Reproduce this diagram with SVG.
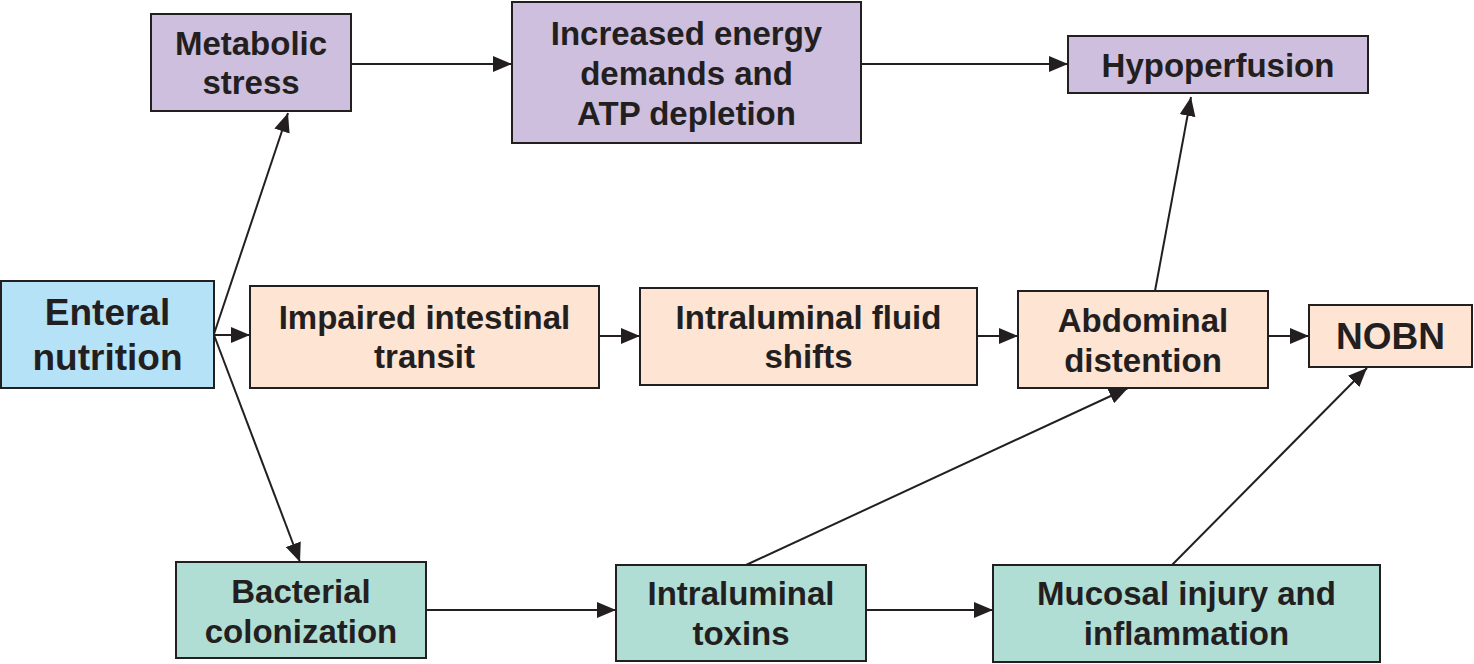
<svg xmlns="http://www.w3.org/2000/svg" width="1474" height="664" viewBox="0 0 1474 664">
<defs>
<style>
.box{stroke:#231f20;stroke-width:2}
.purple{fill:#cdbfdd}
.blue{fill:#b5e2f7}
.peach{fill:#fde4d3}
.teal{fill:#b0ddd4}
text{font-family:"Liberation Sans",Arial,sans-serif;font-weight:bold;fill:#231f20;text-anchor:middle;font-size:33px}
.big{font-size:37px}
.conn line{stroke:#231f20;stroke-width:2;fill:none;marker-end:url(#arr)}
</style>
<marker id="arr" markerUnits="userSpaceOnUse" markerWidth="20" markerHeight="16" refX="19" refY="8" orient="auto">
<path d="M0,0 L19,8 L0,16 z" fill="#231f20"/>
</marker>
</defs>
<rect width="1474" height="664" fill="#ffffff"/>
<g class="conn" id="connectors">
<line x1="351" y1="64" x2="512" y2="64"/>
<line x1="861" y1="64" x2="1068" y2="64"/>
<line x1="214" y1="334" x2="288" y2="113"/>
<line x1="214" y1="335" x2="250" y2="335"/>
<line x1="214" y1="335" x2="300" y2="562"/>
<line x1="599" y1="336" x2="640" y2="336"/>
<line x1="977" y1="336" x2="1018" y2="336"/>
<line x1="1268" y1="336" x2="1309" y2="336"/>
<line x1="1155" y1="291" x2="1191" y2="97"/>
<line x1="746" y1="565" x2="1128" y2="388"/>
<line x1="1172" y1="565" x2="1367" y2="368"/>
<line x1="426" y1="610" x2="616" y2="610"/>
<line x1="866" y1="610" x2="993" y2="610"/>
</g>
<g id="metabolic-stress">
<rect class="box purple" x="151" y="14" width="200" height="97"/>
<text x="251" y="55">Metabolic</text>
<text x="251" y="94">stress</text>
</g>
<g id="increased-energy">
<rect class="box purple" x="512" y="2" width="349" height="141"/>
<text x="686.5" y="45">Increased energy</text>
<text x="686.5" y="85">demands and</text>
<text x="686.5" y="125">ATP depletion</text>
</g>
<g id="hypoperfusion">
<rect class="box purple" x="1068" y="36" width="300" height="57"/>
<text x="1218" y="77">Hypoperfusion</text>
</g>
<g id="enteral-nutrition">
<rect class="box blue" x="1" y="281" width="213" height="107"/>
<text class="big" x="107.5" y="325">Enteral</text>
<text class="big" x="107.5" y="370">nutrition</text>
</g>
<g id="impaired-transit">
<rect class="box peach" x="250" y="286" width="349" height="102"/>
<text x="424.5" y="329">Impaired intestinal</text>
<text x="424.5" y="368">transit</text>
</g>
<g id="fluid-shifts">
<rect class="box peach" x="640" y="288" width="337" height="97"/>
<text x="808.5" y="329">Intraluminal fluid</text>
<text x="808.5" y="368">shifts</text>
</g>
<g id="abdominal-distention">
<rect class="box peach" x="1018" y="291" width="250" height="97"/>
<text x="1143" y="332">Abdominal</text>
<text x="1143" y="372">distention</text>
</g>
<g id="nobn">
<rect class="box peach" x="1309" y="305" width="163" height="62"/>
<text class="big" x="1390.5" y="349">NOBN</text>
</g>
<g id="bacterial-colonization">
<rect class="box teal" x="176" y="562" width="250" height="96"/>
<text x="301" y="603">Bacterial</text>
<text x="301" y="643">colonization</text>
</g>
<g id="intraluminal-toxins">
<rect class="box teal" x="616" y="565" width="250" height="96"/>
<text x="741" y="605">Intraluminal</text>
<text x="741" y="645">toxins</text>
</g>
<g id="mucosal-injury">
<rect class="box teal" x="993" y="565" width="387" height="97"/>
<text x="1186.5" y="605">Mucosal injury and</text>
<text x="1186.5" y="645">inflammation</text>
</g>
</svg>
